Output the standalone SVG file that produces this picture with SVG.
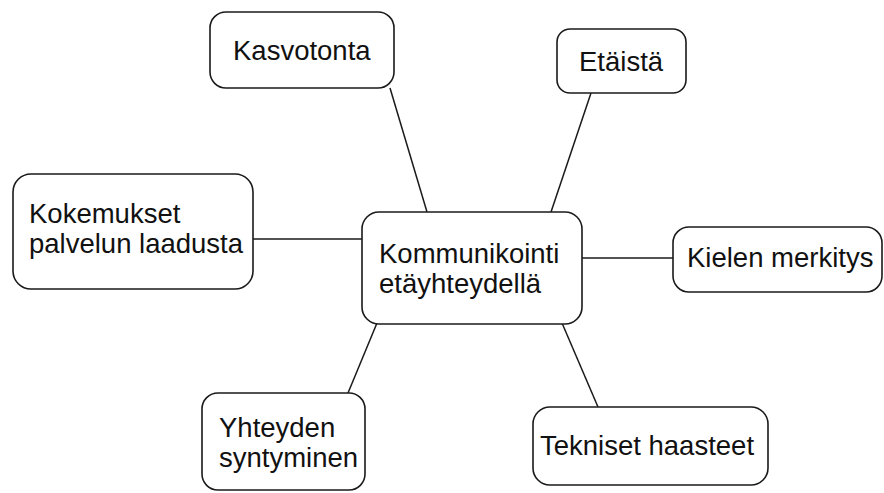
<svg xmlns="http://www.w3.org/2000/svg" width="884" height="493" viewBox="0 0 884 493">
<style>
.box{fill:#fff;stroke:#1a1a1a;stroke-width:1.6}
.lbl{font-family:"Liberation Sans",Arial,sans-serif;font-size:27.5px;fill:#111}
.edge{stroke:#1a1a1a;stroke-width:1.5;fill:none}
</style>
<rect width="884" height="493" fill="#fff"/>
<g id="connectors">
<line class="edge" x1="390" y1="88" x2="427" y2="212"/>
<line class="edge" x1="591" y1="93" x2="551" y2="212"/>
<line class="edge" x1="253" y1="239" x2="362" y2="239"/>
<line class="edge" x1="582" y1="258" x2="673" y2="258"/>
<line class="edge" x1="377" y1="323" x2="348" y2="393"/>
<line class="edge" x1="562" y1="323" x2="598" y2="407"/>
</g>
<g id="center">
<rect class="box" x="362" y="212" width="220" height="112" rx="17"/>
<text class="lbl" x="379" y="263">Kommunikointi</text>
<text class="lbl" x="379" y="293">etäyhteydellä</text>
</g>
<g id="kasvotonta">
<rect class="box" x="210" y="12" width="184" height="76" rx="16"/>
<text class="lbl" x="233" y="60">Kasvotonta</text>
</g>
<g id="etaista">
<rect class="box" x="557" y="29" width="129" height="64" rx="13"/>
<text class="lbl" x="579" y="71">Etäistä</text>
</g>
<g id="kokemukset">
<rect class="box" x="13" y="174" width="240" height="115" rx="18"/>
<text class="lbl" x="29" y="223">Kokemukset</text>
<text class="lbl" x="29" y="253">palvelun laadusta</text>
</g>
<g id="kielen">
<rect class="box" x="673" y="227" width="209" height="65" rx="16"/>
<text class="lbl" x="687" y="267">Kielen merkitys</text>
</g>
<g id="yhteyden">
<rect class="box" x="202" y="393" width="163" height="97" rx="16"/>
<text class="lbl" x="219" y="437">Yhteyden</text>
<text class="lbl" x="219" y="467">syntyminen</text>
</g>
<g id="tekniset">
<rect class="box" x="533" y="407" width="235" height="78" rx="17"/>
<text class="lbl" x="540" y="455">Tekniset haasteet</text>
</g>
</svg>
